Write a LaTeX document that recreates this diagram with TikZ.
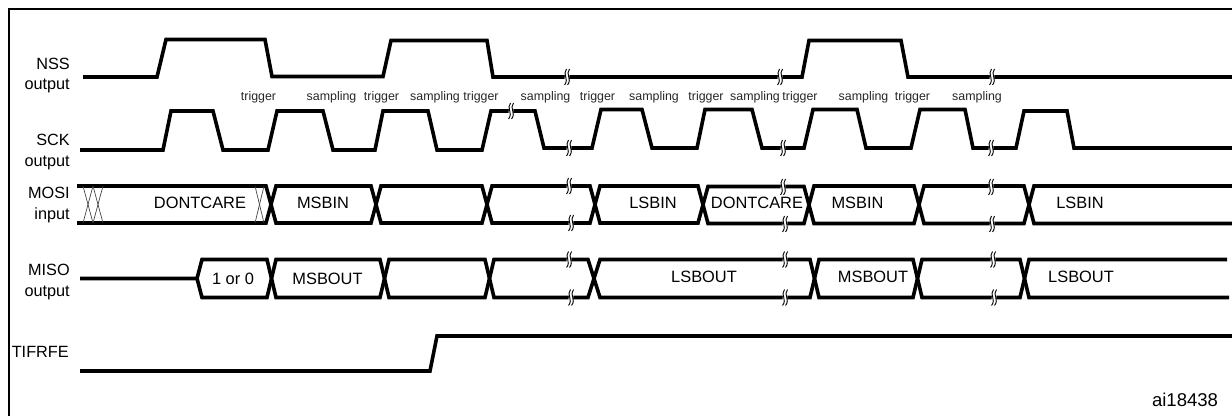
\documentclass[tikz,border=0pt]{standalone}
\usepackage{fontspec}
\setmainfont{Liberation Sans}
\tikzset{
  wave/.style={line width=2.7pt},
  thinx/.style={line width=0.5pt,black!75},
  siglabel/.style={anchor=east,align=right,inner sep=0pt,font=\fontsize{12.2}{15.6}\selectfont},
  datalabel/.style={inner sep=0pt,font=\fontsize{12.3}{15}\selectfont},
  edgelabel/.style={inner sep=0pt,font=\fontsize{9.3}{11}\selectfont,black!85},
}
\newcommand{\wavebreak}[2]{
  \fill[white] (#1-2,#2-7) -- (#1+2.5,#2-7) -- (#1+2,#2+7) -- (#1-2.5,#2+7) -- cycle;
  \draw[line width=0.7pt] (#1-0.5,#2-8) .. controls (#1-5,#2-3) and (#1+2.5,#2+2) .. (#1-2.5,#2+8);
  \draw[line width=0.7pt] (#1+2.5,#2-8) .. controls (#1-2,#2-3) and (#1+5.5,#2+2) .. (#1+0.5,#2+8);
}
\begin{document}
\begin{tikzpicture}[x=0.75pt,y=-0.75pt]
\useasboundingbox (0,0) rectangle (1232,416);

% frame
\draw[line width=1.5pt] (9,416) -- (9,9) -- (1232,9);

% NSS
\draw[wave] (83,77) -- (157,77) -- (166,39.5) -- (265,39.5) -- (272,76.5) -- (383,76.5) -- (391,40.5) -- (487,40.5) -- (493,77) -- (802,77) -- (809,40.5) -- (901,40.5) -- (908,77) -- (1232,77);
\wavebreak{567}{77}
\wavebreak{780}{77}
\wavebreak{992}{77}

% SCK
\draw[wave] (80,150) -- (163,150) -- (171,111) -- (213,111) -- (223,150) -- (268,150) -- (277,111) -- (323,111) -- (333,150) -- (375,150) -- (383,111) -- (428,111) -- (437,150) -- (482,150) -- (491,111) -- (535,111) -- (544,148) -- (592,148) -- (601,109.5) -- (642,109.5) -- (652,148) -- (697,148) -- (705,109.5) -- (752,109.5) -- (762,148) -- (804,148) -- (813,109.5) -- (857,109.5) -- (866,148) -- (911,148) -- (920,109.5) -- (965,109.5) -- (973,148) -- (1016,148) -- (1024,111) -- (1067,111) -- (1074,148) -- (1232,148);
\wavebreak{511}{111}
\wavebreak{569}{148}
\wavebreak{783}{148}
\wavebreak{991}{148}

% MOSI
\draw[wave] (77,186) -- (266,186) -- (276,223) -- (371,223) -- (381,186) -- (482,186) -- (492,223) -- (590,223) -- (600,186) -- (698,186) -- (708,223.5) -- (804,223.5) -- (814,186) -- (914,186) -- (924,223.5) -- (1024,223.5) -- (1034,186) -- (1232,186);
\draw[wave] (77,223) -- (266,223) -- (276,186) -- (371,186) -- (381,223) -- (482,223) -- (492,186) -- (590,186) -- (600,223) -- (698,223) -- (708,186.5) -- (804,186.5) -- (814,223.5) -- (914,223.5) -- (924,186) -- (1024,186) -- (1034,223.5) -- (1232,223.5);
\draw[thinx] (83,186) -- (93,223);
\draw[thinx] (93,186) -- (83,223);
\draw[thinx] (93,186) -- (103,223);
\draw[thinx] (103,186) -- (93,223);
\draw[thinx] (255,186) -- (264,223);
\draw[thinx] (264,186) -- (255,223);
\wavebreak{569}{186}
\wavebreak{571}{223}
\wavebreak{783}{187}
\wavebreak{785}{224}
\wavebreak{991}{187}
\wavebreak{992}{224}

% MISO
\draw[wave] (80,278.5) -- (197,278.5) -- (202,259.5) -- (267,259.5) -- (276,297.5) -- (380,297.5) -- (389,259.5) -- (485,259.5) -- (494,297.5) -- (588,297.5) -- (600,259.5) -- (810,259.5) -- (819,297.5) -- (913,297.5) -- (922,259.5) -- (1020,259.5) -- (1029,297.5) -- (1229,297.5);
\draw[wave] (197,278.5) -- (202,297.5) -- (267,297.5) -- (276,259.5) -- (380,259.5) -- (389,297.5) -- (485,297.5) -- (494,259.5) -- (588,259.5) -- (600,297.5) -- (810,297.5) -- (819,259.5) -- (913,259.5) -- (922,297.5) -- (1020,297.5) -- (1029,259.5) -- (1227,259.5);
\wavebreak{569}{259.5}
\wavebreak{571}{297.5}
\wavebreak{785}{259.5}
\wavebreak{785}{297.5}
\wavebreak{993}{259.5}
\wavebreak{994}{297.5}

% TIFRFE
\draw[wave] (80,371) -- (430,371) -- (437,336) -- (1232,336);

% signal names
\node[siglabel] (nss) at (70,75.5) {NSS\\output};
\node[siglabel] (sck) at (70,152) {SCK\\output};
\node[siglabel] (mosi) at (70,205) {MOSI\\input};
\node[siglabel] (miso) at (70,282) {MISO\\output};
\node[siglabel] (tifrfe) at (69,352) {TIFRFE};

% edges
\node[edgelabel] (trg1) at (258.5,97) {trigger};
\node[edgelabel] (smp1) at (331.5,97) {sampling};
\node[edgelabel] (trg2) at (381.5,97) {trigger};
\node[edgelabel] (smp2) at (435,97) {sampling};
\node[edgelabel] (trg3) at (481,97) {trigger};
\node[edgelabel] (smp3) at (545.5,97) {sampling};
\node[edgelabel] (trg4) at (597.5,97) {trigger};
\node[edgelabel] (smp4) at (654,97) {sampling};
\node[edgelabel] (trg5) at (706,97) {trigger};
\node[edgelabel] (smp5) at (755,97) {sampling};
\node[edgelabel] (trg6) at (800,97) {trigger};
\node[edgelabel] (smp6) at (863.5,97) {sampling};
\node[edgelabel] (trg7) at (912.5,97) {trigger};
\node[edgelabel] (smp7) at (977,97) {sampling};

% data
\node[datalabel] (dc1) at (200,203) {DONTCARE};
\node[datalabel] (msbin1) at (323,203) {MSBIN};
\node[datalabel] (lsbin1) at (653,203) {LSBIN};
\node[datalabel] (dc2) at (757,203) {DONTCARE};
\node[datalabel] (msbin2) at (857.5,203) {MSBIN};
\node[datalabel] (lsbin2) at (1080,203) {LSBIN};
\node[datalabel] (onezero) at (233,279) {1 or 0};
\node[datalabel] (msbout1) at (327.5,279) {MSBOUT};
\node[datalabel] (lsbout1) at (704,277) {LSBOUT};
\node[datalabel] (msbout2) at (873,277) {MSBOUT};
\node[datalabel] (lsbout2) at (1081,277) {LSBOUT};

\node[inner sep=0pt,font=\fontsize{13.9}{16}\selectfont] (figid) at (1185,400) {ai18438};
\end{tikzpicture}
\end{document}
